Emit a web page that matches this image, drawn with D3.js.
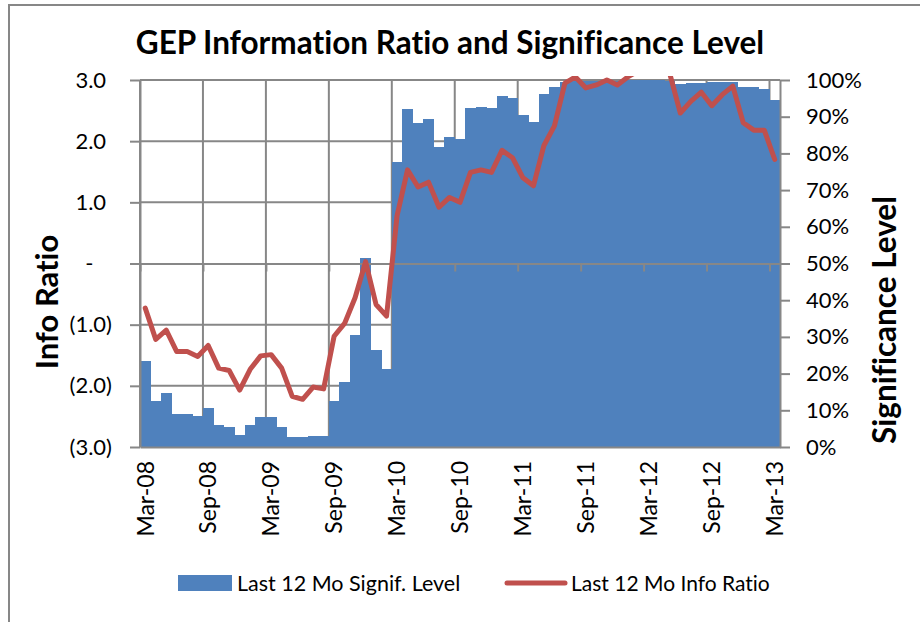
<!DOCTYPE html>
<html>
<head>
<meta charset="utf-8">
<script src="https://cdn.jsdelivr.net/npm/d3@7"></script>
<style>
  html, body { margin: 0; padding: 0; background: #fff; }
  svg { display: block; font-family: Lato, "Open Sans", sans-serif; font-variant-ligatures: none; }
</style>
</head>
<body>
<svg id="chart" width="920" height="622"></svg>
<script>
// Monthly categories, Mar-08 .. Mar-13
const categories = [
  "Mar-08","Apr-08","May-08","Jun-08","Jul-08","Aug-08","Sep-08","Oct-08","Nov-08","Dec-08","Jan-09","Feb-09",
  "Mar-09","Apr-09","May-09","Jun-09","Jul-09","Aug-09","Sep-09","Oct-09","Nov-09","Dec-09","Jan-10","Feb-10",
  "Mar-10","Apr-10","May-10","Jun-10","Jul-10","Aug-10","Sep-10","Oct-10","Nov-10","Dec-10","Jan-11","Feb-11",
  "Mar-11","Apr-11","May-11","Jun-11","Jul-11","Aug-11","Sep-11","Oct-11","Nov-11","Dec-11","Jan-12","Feb-12",
  "Mar-12","Apr-12","May-12","Jun-12","Jul-12","Aug-12","Sep-12","Oct-12","Nov-12","Dec-12","Jan-13","Feb-13",
  "Mar-13"
];

// Last 12 month significance level (fraction, right axis)
const signifLevel = [
  0.234, 0.125, 0.148, 0.090, 0.090, 0.084, 0.107, 0.060, 0.055, 0.033, 0.060, 0.083,
  0.083, 0.055, 0.026, 0.026, 0.031, 0.031, 0.125, 0.178, 0.305, 0.514, 0.264, 0.212,
  0.776, 0.921, 0.882, 0.893, 0.818, 0.846, 0.838, 0.923, 0.927, 0.923, 0.956, 0.950,
  0.905, 0.886, 0.962, 0.981, 0.995, 0.998, 0.997, 0.998, 0.999, 0.998, 0.999, 0.999,
  0.999, 0.999, 0.998, 0.990, 0.992, 0.992, 0.995, 0.995, 0.995, 0.981, 0.981, 0.976,
  0.945
];

// Last 12 month information ratio (left axis)
const infoRatio = [
  -0.73, -1.24, -1.09, -1.44, -1.44, -1.52, -1.34, -1.71, -1.75, -2.07, -1.73, -1.51,
  -1.49, -1.71, -2.17, -2.22, -2.02, -2.05, -1.19, -0.98, -0.56,  0.03, -0.67, -0.86,
   0.78,  1.53,  1.25,  1.33,  0.92,  1.08,  1.00,  1.49,  1.53,  1.49,  1.85,  1.73,
   1.40,  1.27,  1.93,  2.25,  2.95,  3.05,  2.87,  2.92,  3.00,  2.92,  3.05,  3.15,
   3.20,  3.15,  3.10,  2.46,  2.65,  2.80,  2.58,  2.76,  2.90,  2.30,  2.18,  2.18,
   1.70
];

const irTicks = [-3, -2, -1, 0, 1, 2, 3];
const sigTicks = [0, 0.1, 0.2, 0.3, 0.4, 0.5, 0.6, 0.7, 0.8, 0.9, 1.0];
const dateTicks = ["Mar-08","Sep-08","Mar-09","Sep-09","Mar-10","Sep-10","Mar-11","Sep-11","Mar-12","Sep-12","Mar-13"];

const chartTitle = "GEP Information Ratio and Significance Level";
const leftTitle = "Info Ratio";
const rightTitle = "Significance Level";
const barName = "Last 12 Mo Signif. Level";
const lineName = "Last 12 Mo Info Ratio";

// ---- styling / layout ----
const barColor = "#4F81BD";
const lineColor = "#C0504D";
const gridColor = "#878787";
const plot = { left: 140, right: 780, top: 80, bottom: 447 };

const svg = d3.select("#chart");

// outer chart frame
svg.append("rect")
  .attr("x", 9).attr("y", 5).attr("width", 940).attr("height", 640)
  .attr("fill", "#fff").attr("stroke", gridColor).attr("stroke-width", 2);

const x = d3.scaleBand().domain(categories).range([plot.left, plot.right]).padding(0);
const xEdge = d3.scaleLinear().domain([0, categories.length]).range([plot.left, plot.right]);
const yIR = d3.scaleLinear().domain([-3, 3]).range([plot.bottom, plot.top]);
const ySig = d3.scaleLinear().domain([0, 1]).range([plot.bottom, plot.top]);

// gridlines (behind the columns)
const grid = svg.append("g").attr("stroke", gridColor).attr("stroke-width", 2);
grid.selectAll("line.h").data(irTicks.filter(d => d !== 0 && d !== -3)).join("line")
  .attr("x1", plot.left).attr("x2", plot.right)
  .attr("y1", d => yIR(d)).attr("y2", d => yIR(d));
grid.selectAll("line.v").data(dateTicks).join("line")
  .attr("x1", d => x(d)).attr("x2", d => x(d))
  .attr("y1", plot.top).attr("y2", plot.bottom);

// columns
svg.append("g").selectAll("rect").data(signifLevel).join("rect")
  .attr("x", (d, i) => x(categories[i]))
  .attr("width", x.bandwidth() + 0.4)
  .attr("y", d => ySig(d))
  .attr("height", d => ySig(0) - ySig(d))
  .attr("fill", barColor)
  .attr("shape-rendering", "crispEdges");

function styleAxis(g) {
  g.select(".domain").attr("stroke", gridColor).attr("stroke-width", 2);
  g.selectAll(".tick line").attr("stroke", gridColor).attr("stroke-width", 2);
  g.selectAll(".tick text").attr("fill", "#000").style("font-size", "22px")
    .style("font-family", "Lato, 'Open Sans', sans-serif");
}

// category axis crossing at zero, ticks every 6 months
svg.append("g")
  .attr("transform", `translate(0,${yIR(0)})`)
  .call(d3.axisBottom(xEdge)
    .tickValues(dateTicks.map(t => categories.indexOf(t)))
    .tickSize(8).tickSizeOuter(0).tickFormat(""))
  .call(styleAxis);

// rotated month labels along the bottom
const bottomAxis = svg.append("g")
  .attr("transform", `translate(0,${plot.bottom})`)
  .call(d3.axisBottom(x).tickValues(dateTicks).tickSize(0).tickSizeOuter(0))
  .call(styleAxis);
bottomAxis.selectAll(".tick text")
  .style("font-size", "23px")
  .attr("transform", "rotate(-90)")
  .attr("text-anchor", "end")
  .attr("x", -14).attr("y", 0).attr("dy", "0.36em");

// left axis, accounting style number format
function acctParts(v) {
  if (v === 0) return ["-", "0)"];
  if (v < 0) return ["(" + d3.format(".1f")(-v) + ")", ""];
  return [d3.format(".1f")(v), ")"];
}
const leftAxis = svg.append("g")
  .attr("transform", `translate(${plot.left},0)`)
  .call(d3.axisLeft(yIR).tickValues(irTicks).tickSize(10).tickSizeOuter(0).tickPadding(18))
  .call(styleAxis);
leftAxis.selectAll(".tick text").each(function (d) {
  const [main, pad] = acctParts(d);
  const t = d3.select(this).text(null);
  t.append("tspan").text(main);
  if (pad) t.append("tspan").attr("fill-opacity", 0).text(pad);
});

// right axis, percent
svg.append("g")
  .attr("transform", `translate(${plot.right},0)`)
  .call(d3.axisRight(ySig).tickValues(sigTicks).tickSize(10).tickSizeOuter(0)
    .tickPadding(16).tickFormat(d3.format(".0%")))
  .call(styleAxis);

// info ratio line, clipped to the plot area
svg.append("clipPath").attr("id", "plotClip")
  .append("rect")
  .attr("x", plot.left).attr("y", plot.top - 4)
  .attr("width", plot.right - plot.left).attr("height", plot.bottom - plot.top + 4);

const line = d3.line()
  .x((d, i) => x(categories[i]) + x.bandwidth() / 2)
  .y(d => yIR(d));

svg.append("path")
  .datum(infoRatio)
  .attr("clip-path", "url(#plotClip)")
  .attr("d", line)
  .attr("fill", "none")
  .attr("stroke", lineColor)
  .attr("stroke-width", 5)
  .attr("stroke-linejoin", "round")
  .attr("stroke-linecap", "round");

// titles
svg.append("text")
  .attr("x", 450).attr("y", 54)
  .attr("text-anchor", "middle")
  .style("font-weight", "bold").style("font-size", "31.5px")
  .text(chartTitle);

svg.append("text")
  .attr("transform", "translate(58,302) rotate(-90)")
  .attr("text-anchor", "middle")
  .style("font-weight", "bold").style("font-size", "31px")
  .text(leftTitle);

svg.append("text")
  .attr("transform", "translate(896,320) rotate(-90)")
  .attr("text-anchor", "middle")
  .style("font-weight", "bold").style("font-size", "31.5px")
  .text(rightTitle);

// legend
const legend = svg.append("g");
legend.append("rect")
  .attr("x", 178).attr("y", 575).attr("width", 54).attr("height", 16)
  .attr("fill", barColor);
legend.append("text").attr("x", 237).attr("y", 591).style("font-size", "21.5px").text(barName);
legend.append("line")
  .attr("x1", 507).attr("x2", 565).attr("y1", 583).attr("y2", 583)
  .attr("stroke", lineColor).attr("stroke-width", 5).attr("stroke-linecap", "round");
legend.append("text").attr("x", 571).attr("y", 591).style("font-size", "21px").text(lineName);
</script>
</body>
</html>
